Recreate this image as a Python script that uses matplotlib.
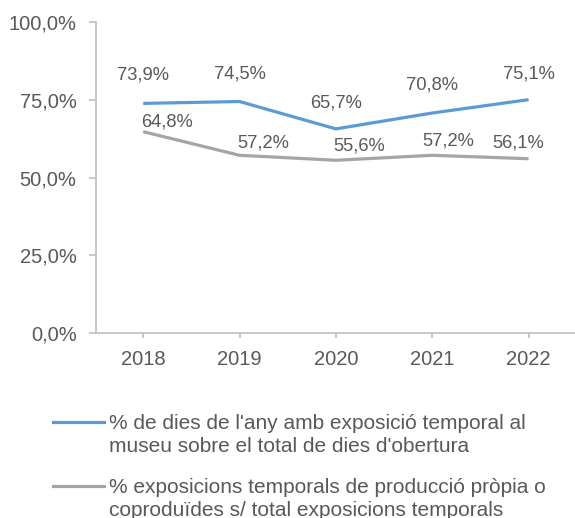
import matplotlib
matplotlib.use("Agg")
import matplotlib.pyplot as plt
from matplotlib.lines import Line2D
from matplotlib.ticker import FuncFormatter

# data
years = ["2018", "2019", "2020", "2021", "2022"]
dies_expo = [73.9, 74.5, 65.7, 70.8, 75.1]
expo_propia = [64.8, 57.2, 55.6, 57.2, 56.1]
legend_labels = [
    "% de dies de l'any amb exposició temporal al\nmuseu sobre el total de dies d'obertura",
    "% exposicions temporals de producció pròpia o\ncoproduïdes s/ total exposicions temporals",
]

# label offsets in pixels (placed by hand in the original)
blue_offsets = [(0, 28), (0, 28), (0, 26), (0, 28), (0, 26)]
gray_offsets = [(24, 10), (24, 12), (23, 14), (16, 14), (-10, 16)]

BLUE = "#5B9BD5"
GRAY = "#A5A5A5"
TEXT = "#595959"
AXIS = "#BFBFBF"

plt.rcParams["font.family"] = ["Liberation Sans", "DejaVu Sans"]

fig = plt.figure(figsize=(5.75, 5.18), dpi=100)
ax = fig.add_axes([0.167, 0.357, 0.836, 0.6])

x = list(range(len(years)))
ax.plot(x, dies_expo, color=BLUE, lw=2.3, solid_joinstyle="round", solid_capstyle="butt")
ax.plot(x, expo_propia, color=GRAY, lw=2.3, solid_joinstyle="round", solid_capstyle="butt")

def pct(v):
    return f"{v:.1f}%".replace(".", ",")

for xi, v, off in zip(x, dies_expo, blue_offsets):
    ax.annotate(pct(v), (xi, v), xytext=off, textcoords="offset pixels",
                ha="center", va="center", fontsize=13.2, color=TEXT)
for xi, v, off in zip(x, expo_propia, gray_offsets):
    ax.annotate(pct(v), (xi, v), xytext=off, textcoords="offset pixels",
                ha="center", va="center", fontsize=13.2, color=TEXT)

ax.set_xlim(-0.49, 4.5)
ax.set_ylim(0, 100)
ax.set_xticks(x)
ax.set_xticklabels(years)
ax.set_yticks([0, 25, 50, 75, 100])
ax.yaxis.set_major_formatter(FuncFormatter(lambda v, p: pct(v)))

for s in ["top", "right"]:
    ax.spines[s].set_visible(False)
for s in ["left", "bottom"]:
    ax.spines[s].set_color(AXIS)
    ax.spines[s].set_linewidth(1.2)

ax.tick_params(axis="y", length=5, width=1.2, color=AXIS, pad=9, labelsize=14.5, labelcolor=TEXT)
ax.tick_params(axis="x", length=3.5, width=1.2, color=AXIS, pad=9, labelsize=14.5, labelcolor=TEXT)

# legend drawn by hand so the line sits beside the first text row
W, H = 575, 518
for lab, col, y in zip(legend_labels, [BLUE, GRAY], [422, 486]):
    fig.add_artist(Line2D([53 / W, 104 / W], [1 - y / H, 1 - y / H],
                          color=col, lw=2.3, transform=fig.transFigure))
    fig.text(109 / W, 1 - (y + 13) / H, lab, ha="left", va="center",
             fontsize=15, color=TEXT, linespacing=1.3)

fig.savefig("out.png", dpi=100)
